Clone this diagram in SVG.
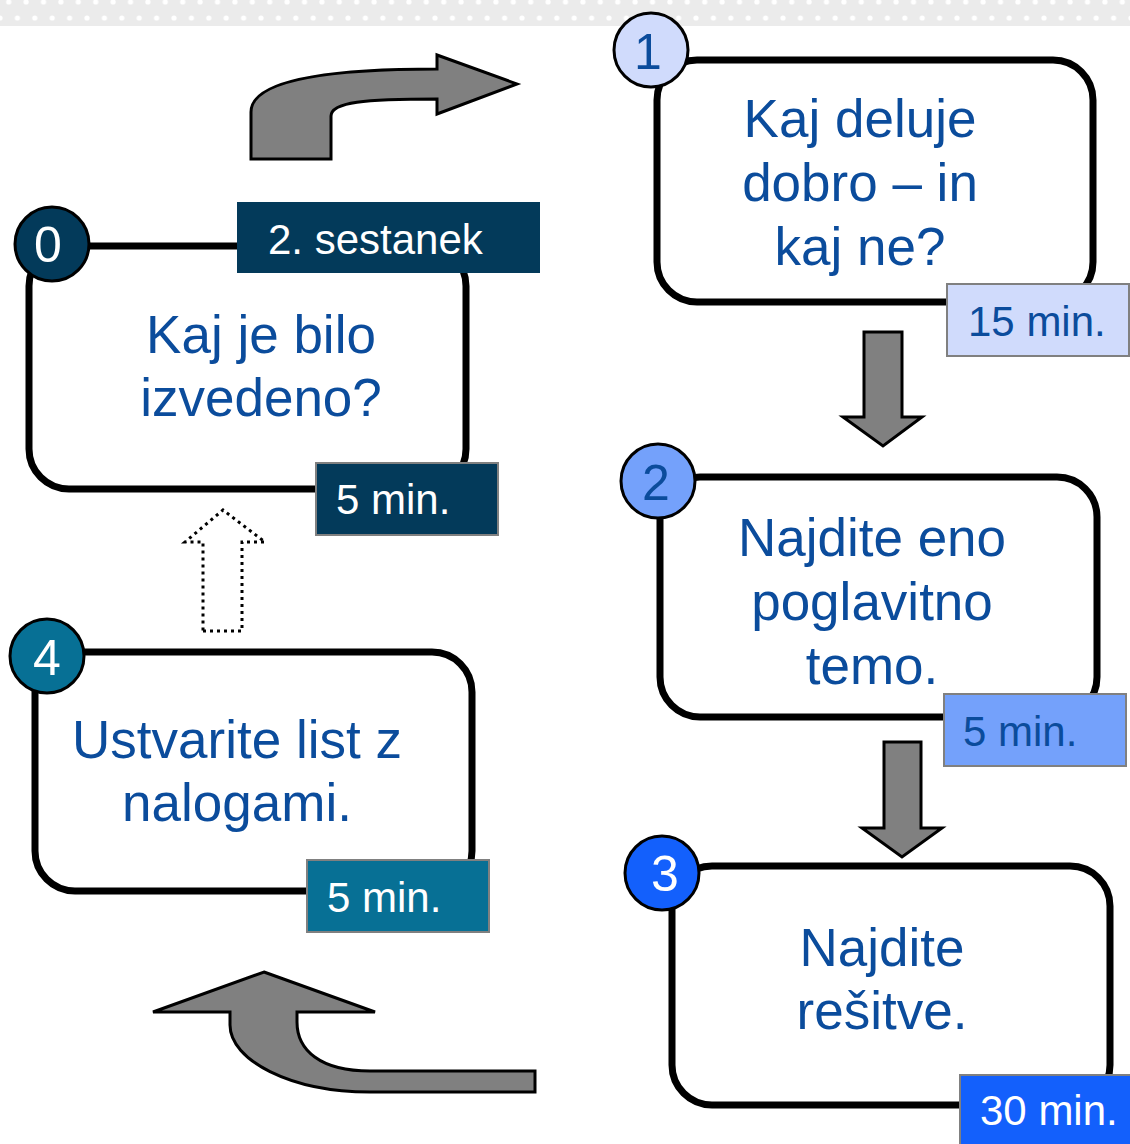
<svg xmlns="http://www.w3.org/2000/svg" width="1130" height="1144" viewBox="0 0 1130 1144">
<defs>
<pattern id="dots" x="0" y="0" width="17.4" height="32" patternUnits="userSpaceOnUse">
<circle cx="8.7" cy="2" r="2.6" fill="#ffffff"/>
<circle cx="0" cy="18" r="2.6" fill="#ffffff"/>
<circle cx="17.4" cy="18" r="2.6" fill="#ffffff"/>
</pattern>
<style>
.box{fill:#ffffff;stroke:#000000;stroke-width:7}
.num{stroke:#000000;stroke-width:3}
.lbl{stroke:#808080;stroke-width:2}
.main{font-family:"Liberation Sans",Arial,sans-serif;font-size:53px;fill:#0b4c9c;text-anchor:middle}
.tag{font-family:"Liberation Sans",Arial,sans-serif;font-size:42px}
.digit{font-family:"Liberation Sans",Arial,sans-serif;font-size:50px;text-anchor:middle}
.big{fill:#808080;stroke:#000000;stroke-width:3;stroke-linejoin:miter}
</style>
</defs>
<rect x="0" y="0" width="1130" height="26" fill="#ebebeb"/>
<rect x="0" y="0" width="1130" height="26" fill="url(#dots)"/>

<g id="connectors">
<path class="big" d="M251,159 L251,112 C251,82 320,69 437,69 L437,55 L517,84 L437,114 L437,99 C365,99 331,102 331,116 L331,159 Z"/>
<path class="big" d="M864,332 L902,332 L902,417 L922,417 L883,446 L843,417 L864,417 Z"/>
<path class="big" d="M884,742 L921,742 L921,828 L942,828 L902,857 L862,828 L884,828 Z"/>
<path class="big" d="M264,972 L375,1012 L297,1012 L297,1022 C297,1050 320,1071 370,1071 L535,1071 L535,1092 L370,1092 C290,1092 230,1060 230,1025 L230,1012 L153,1012 Z"/>
<path d="M203,631 L242,631 L242,542 L265,542 L223,510 L185,542 L203,542 Z" fill="none" stroke="#000000" stroke-width="3" stroke-dasharray="3 4"/>
</g>

<g id="node0">
<rect class="box" x="29" y="246" width="437" height="243" rx="40"/>
<circle class="num" cx="52" cy="244" r="37" fill="#033a5a"/>
<text class="digit" x="48" y="262" fill="#ffffff">0</text>
<rect x="237" y="202" width="303" height="71" fill="#033a5a"/>
<text class="tag" x="268" y="254" fill="#ffffff">2. sestanek</text>
<text class="main" x="261" y="353">Kaj je bilo</text>
<text class="main" x="261" y="416">izvedeno?</text>
<rect class="lbl" x="316" y="463" width="182" height="72" fill="#033a5a"/>
<text class="tag" x="336" y="514" fill="#ffffff">5 min.</text>
</g>

<g id="node1">
<rect class="box" x="657" y="60" width="436" height="242" rx="40"/>
<circle class="num" cx="651" cy="50" r="37" fill="#d0dbfc"/>
<text class="digit" x="648" y="69" fill="#0b4c9c">1</text>
<text class="main" x="860" y="137">Kaj deluje</text>
<text class="main" x="860" y="201">dobro – in</text>
<text class="main" x="860" y="265">kaj ne?</text>
<rect class="lbl" x="947" y="284" width="182" height="72" fill="#d0dbfc"/>
<text class="tag" x="968" y="336" fill="#0b4c9c">15 min.</text>
</g>

<g id="node2">
<rect class="box" x="660" y="477" width="437" height="240" rx="40"/>
<circle class="num" cx="658" cy="481" r="37" fill="#74a1fb"/>
<text class="digit" x="656" y="500" fill="#0b4c9c">2</text>
<text class="main" x="872" y="556">Najdite eno</text>
<text class="main" x="872" y="620">poglavitno</text>
<text class="main" x="872" y="684">temo.</text>
<rect class="lbl" x="944" y="694" width="182" height="72" fill="#74a1fb"/>
<text class="tag" x="963" y="746" fill="#0b4c9c">5 min.</text>
</g>

<g id="node3">
<rect class="box" x="672" y="866" width="438" height="239" rx="40"/>
<circle class="num" cx="662" cy="873" r="37" fill="#1360fc"/>
<text class="digit" x="665" y="891" fill="#ffffff">3</text>
<text class="main" x="882" y="966">Najdite</text>
<text class="main" x="882" y="1029">rešitve.</text>
<rect class="lbl" x="960" y="1075" width="182" height="72" fill="#1360fc"/>
<text class="tag" x="980" y="1125" fill="#ffffff">30 min.</text>
</g>

<g id="node4">
<rect class="box" x="35" y="652" width="437" height="239" rx="40"/>
<circle class="num" cx="47" cy="656" r="37" fill="#077095"/>
<text class="digit" x="47" y="675" fill="#ffffff">4</text>
<text class="main" x="237" y="758">Ustvarite list z</text>
<text class="main" x="237" y="821">nalogami.</text>
<rect class="lbl" x="307" y="860" width="182" height="72" fill="#077095"/>
<text class="tag" x="327" y="912" fill="#ffffff">5 min.</text>
</g>
</svg>
